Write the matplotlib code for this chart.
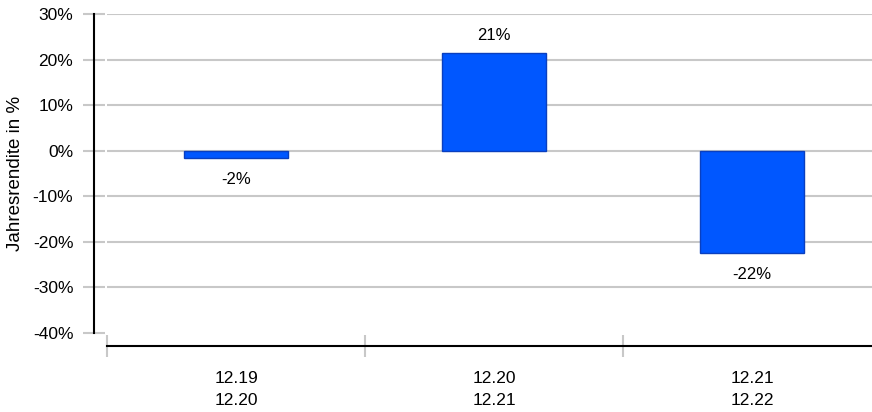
import matplotlib
matplotlib.use("Agg")
import matplotlib.pyplot as plt
from matplotlib.ticker import FixedLocator, PercentFormatter

plt.rcParams["font.family"] = ["Liberation Sans", "DejaVu Sans"]
plt.rcParams["axes.unicode_minus"] = False

# --- data ---
periods = ["12.19\n12.20", "12.20\n12.21", "12.21\n12.22"]
returns = [-1.7, 21.4, -22.4]  # Jahresrendite in %
y_ticks = [-40, -30, -20, -10, 0, 10, 20, 30]

bar_color = "#0057ff"
edge_color = "#0a3fbf"
grid_color = "#c8c8c8"

fig = plt.figure(figsize=(8.72, 4.12), dpi=100)
W, H = 872, 412
ax = fig.add_axes([107 / W, 1 - 333 / H, 1 - 107 / W, (333 - 14) / H])

x = list(range(len(periods)))
ax.bar(x, returns, width=0.4, color=bar_color, edgecolor=edge_color,
       linewidth=1, zorder=3)

# value labels
for xi, v in zip(x, returns):
    if v >= 0:
        ax.annotate(f"{v:.0f}%", (xi, v), xytext=(0, 13), textcoords="offset points",
                    ha="center", va="center", fontsize=12)
    else:
        ax.annotate(f"{v:.0f}%", (xi, v), xytext=(0, -15.5), textcoords="offset points",
                    ha="center", va="center", fontsize=12)

ax.set_xlim(-0.5, (W - 107) / 258 - 0.5)
ax.set_ylim(-40, 30)

# spines
for s in ["top", "right"]:
    ax.spines[s].set_visible(False)
for s in ["left", "bottom"]:
    ax.spines[s].set_position(("outward", 9.4))
    ax.spines[s].set_linewidth(1.5)
    ax.spines[s].set_color("black")
    ax.spines[s].set_zorder(4)

# y axis
ax.yaxis.set_major_locator(FixedLocator(y_ticks))
ax.yaxis.set_major_formatter(PercentFormatter(decimals=0))
ax.tick_params(axis="y", direction="inout", length=15.8, width=1.5,
               color=grid_color, pad=7, labelsize=12.5)
ax.grid(axis="y", color=grid_color, linewidth=1.5, zorder=0)
ax.yaxis.get_gridlines()[0].set_visible(False)

# x axis: boundary ticks + centred labels
ax.set_xticks([-0.5, 0.5, 1.5])
ax.set_xticklabels([])
ax.set_xticks(x, minor=True)
ax.set_xticklabels(periods, minor=True, fontsize=12.5, linespacing=1.55)
ax.tick_params(axis="x", which="major", direction="inout", length=15.8,
               width=1.5, color=grid_color)
ax.tick_params(axis="x", which="minor", length=0, pad=18)

fig.text(15 / W, 1 - 173.5 / H, "Jahresrendite in %", rotation=90,
         ha="center", va="center", fontsize=13.5)

fig.savefig("out.png", dpi=100)
